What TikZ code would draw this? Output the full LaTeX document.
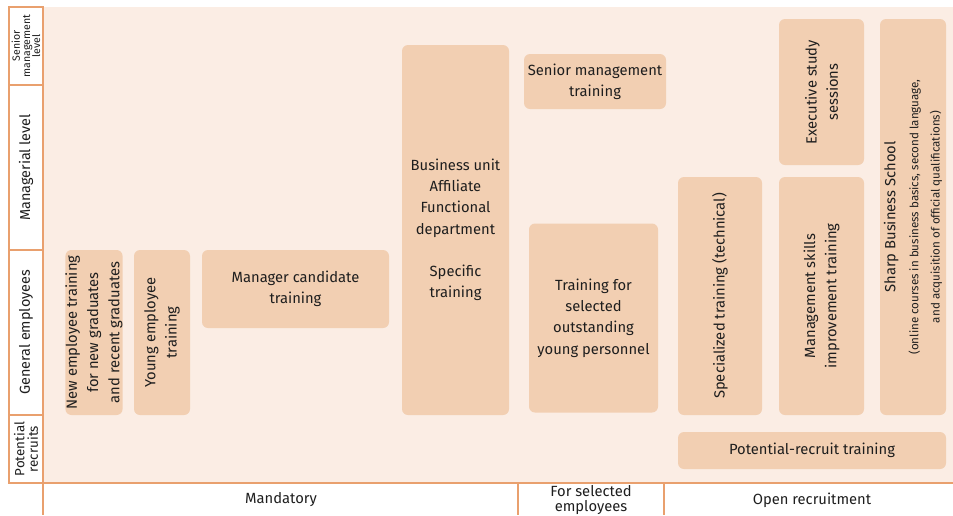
\documentclass[tikz,border=0pt]{standalone}
\usepackage{fontspec}
\setmainfont{Fira Sans}
\usepackage{tikz}
\usetikzlibrary{positioning}

\definecolor{bgpeach}{HTML}{FBEDE4}
\definecolor{boxpeach}{HTML}{F2CFB2}
\definecolor{lineorange}{HTML}{E9A06E}
\definecolor{txtgray}{HTML}{1E1E1E}

\begin{document}
\begin{tikzpicture}[
      x=0.02cm, y=-0.02cm,
      font=\fontsize{8.4}{12.1}\selectfont, text=txtgray,
      pbox/.style={fill=boxpeach, rounded corners=0.12cm, align=center, inner sep=0pt},
      rowlab/.style={rotate=90, align=center, font=\fontsize{8.2}{8.6}\selectfont},
      colab/.style={align=center, font=\fontsize{8.4}{8.6}\selectfont},
      frame/.style={draw=lineorange, line width=0.6pt},
    ]

    \useasboundingbox (0,0) rectangle (953,515);
    \fill[bgpeach] (43,7) rectangle (953,483);

    % level column
    \fill[white] (9,7) rectangle (43,483);
    \draw[frame] (9,7) rectangle (43,483);
    \draw[frame] (9,85) -- (43,85);
    \draw[frame] (9,250) -- (43,250);
    \draw[frame] (9,415) -- (43,415);
    \draw[frame] (9,483) -- (953,483);
    \draw[frame] (43,483) -- (43,515);
    \draw[frame] (518,483) -- (518,515);
    \draw[frame] (664,483) -- (664,515);

    \node[rowlab, font=\fontsize{6}{5.8}\selectfont] (lvsenior) at (26,46) {Senior\\management\\level};
    \node[rowlab] (lvmanager) at (26,167.5) {Managerial level};
    \node[rowlab] (lvgeneral) at (26,332.5) {General employees};
    \node[rowlab, font=\fontsize{7.6}{7.8}\selectfont] (lvrecruit) at (26,449) {Potential\\recruits};

    \node[colab] (mandatory) at (281,500) {Mandatory};
    \node[colab] (selected) at (591,500) {For selected\\employees};
    \node[colab] (open) at (812,500) {Open recruitment};

    % training boxes
    \node[pbox, rotate=90, minimum width=165*0.02cm, minimum height=56*0.02cm] (newemp) at (94,332.5)
        {New employee training\\for new graduates\\and recent graduates};
    \node[pbox, rotate=90, minimum width=165*0.02cm, minimum height=56*0.02cm] (young) at (162,332.5)
        {Young employee\\training};
    \node[pbox, minimum width=187*0.02cm, minimum height=78*0.02cm] (mgrcand) at (295.5,289)
        {Manager candidate\\training};
    \node[pbox, minimum width=107*0.02cm, minimum height=370*0.02cm] (bizunit) at (455.5,230)
        {Business unit\\Affiliate\\Functional\\department\\[12.1pt]Specific\\training};
    \node[pbox, minimum width=142*0.02cm, minimum height=55*0.02cm] (senior) at (595,81.5)
        {Senior management\\training};
    \node[pbox, minimum width=129*0.02cm, minimum height=189*0.02cm] (outstand) at (593.5,318)
        {Training for\\selected\\outstanding\\young personnel};
    \node[pbox, rotate=90, minimum width=238*0.02cm, minimum height=84*0.02cm] (special) at (720,296)
        {Specialized training (technical)};
    \node[pbox, rotate=90, minimum width=146*0.02cm, minimum height=85*0.02cm] (exec) at (821.5,92)
        {Executive study\\sessions};
    \node[pbox, rotate=90, minimum width=238*0.02cm, minimum height=85*0.02cm] (mgmtskill) at (821.5,296)
        {Management skills\\improvement training};
    \node[pbox, rotate=90, minimum width=396*0.02cm, minimum height=66*0.02cm] (sharp) at (913,217)
        {Sharp Business School\\[1pt]{\fontsize{6.6}{9}\selectfont (online courses in business basics, second language,}\\
         {\fontsize{6.6}{9}\selectfont and acquisition of official qualifications)}};
    \node[pbox, minimum width=268*0.02cm, minimum height=37*0.02cm] (recruit) at (812,450.5)
        {Potential-recruit training};

  \end{tikzpicture}
\end{document}
